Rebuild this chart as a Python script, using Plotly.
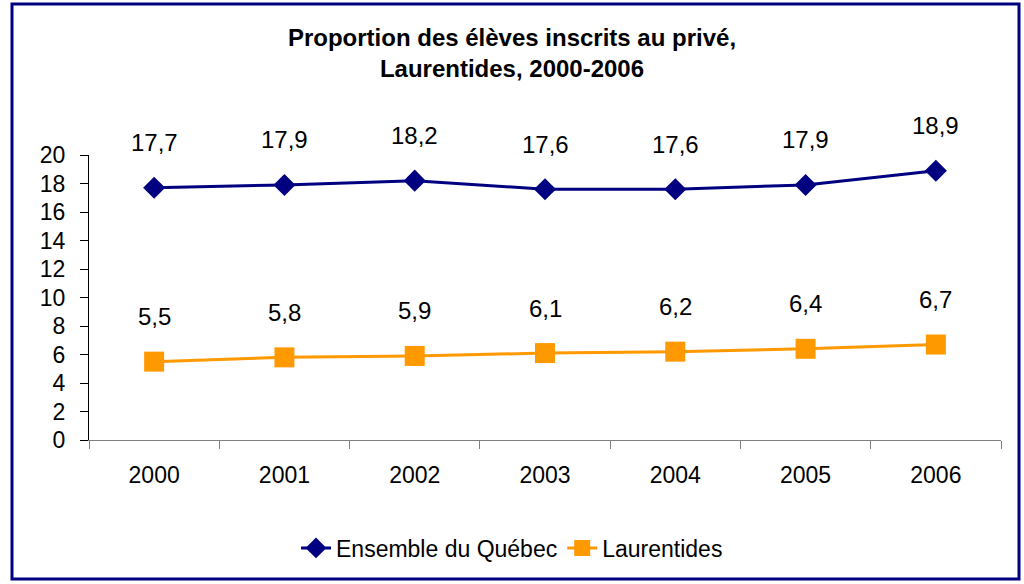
import plotly.graph_objects as go

years = ["2000", "2001", "2002", "2003", "2004", "2005", "2006"]
quebec = [17.7, 17.9, 18.2, 17.6, 17.6, 17.9, 18.9]
laurentides = [5.5, 5.8, 5.9, 6.1, 6.2, 6.4, 6.7]
y_ticks = [0, 2, 4, 6, 8, 10, 12, 14, 16, 18, 20]

FONT = "Liberation Sans, Arial, sans-serif"
NAVY = "#000080"
ORANGE = "#FF9900"

fig = go.Figure()
fig.add_trace(go.Scatter(
    x=years, y=quebec, name="Ensemble du Québec", mode="lines+markers",
    line=dict(color=NAVY, width=3),
    marker=dict(symbol="diamond", size=17, color=NAVY),
))
fig.add_trace(go.Scatter(
    x=years, y=laurentides, name="Laurentides", mode="lines+markers",
    line=dict(color=ORANGE, width=3),
    marker=dict(symbol="square", size=20, color=ORANGE),
))

annotations = []
for series in (quebec, laurentides):
    for i, v in enumerate(series):
        annotations.append(dict(
            x=i, y=v, xref="x", yref="y", text=f"{v:.1f}".replace(".", ","),
            showarrow=False, yshift=45, font=dict(family=FONT, size=24, color="black"),
        ))

fig.update_layout(
    width=1024, height=584,
    margin=dict(l=89, r=23, t=155, b=144),
    paper_bgcolor="white", plot_bgcolor="white",
    font=dict(family=FONT, size=23, color="black"),
    title=dict(
        text="<b>Proportion des élèves inscrits au privé,<br>Laurentides, 2000-2006</b>",
        x=0.5, xanchor="center", xref="container",
        y=1 - 46 / 584, yanchor="top", yref="container",
        font=dict(family=FONT, size=24, color="black"),
    ),
    xaxis=dict(
        type="category", range=[-0.5, 6.5], tickson="boundaries",
        ticks="outside", ticklen=8, tickcolor="#808080", tickwidth=1,
        showline=True, linecolor="#808080", linewidth=1, showgrid=False,
        tickfont=dict(size=23), fixedrange=True, ticklabelstandoff=14,
    ),
    yaxis=dict(
        range=[0, 20], tickvals=y_ticks, ticks="outside", ticklen=8,
        tickcolor="black", showline=True, linecolor="black", linewidth=1,
        showgrid=False, zeroline=False, tickfont=dict(size=23),
        ticklabelstandoff=10,
    ),
    legend=dict(
        orientation="h", x=0.5, xanchor="center", xref="container",
        y=1 - 548 / 584, yanchor="middle", yref="container",
        font=dict(family=FONT, size=23), tracegroupgap=0,
    ),
    showlegend=True,
    annotations=annotations,
    shapes=[dict(
        type="rect", xref="paper", yref="paper",
        x0=(12 - 89) / 912, x1=(1019 - 89) / 912,
        y0=(440 - 579) / 285, y1=(440 - 4) / 285,
        line=dict(color=NAVY, width=3), fillcolor="rgba(0,0,0,0)", layer="below",
    )],
)

fig.write_html(
    "out.html",
    config={"displayModeBar": False},
    post_script="document.body.style.margin='0';document.body.style.overflow='hidden';",
)
